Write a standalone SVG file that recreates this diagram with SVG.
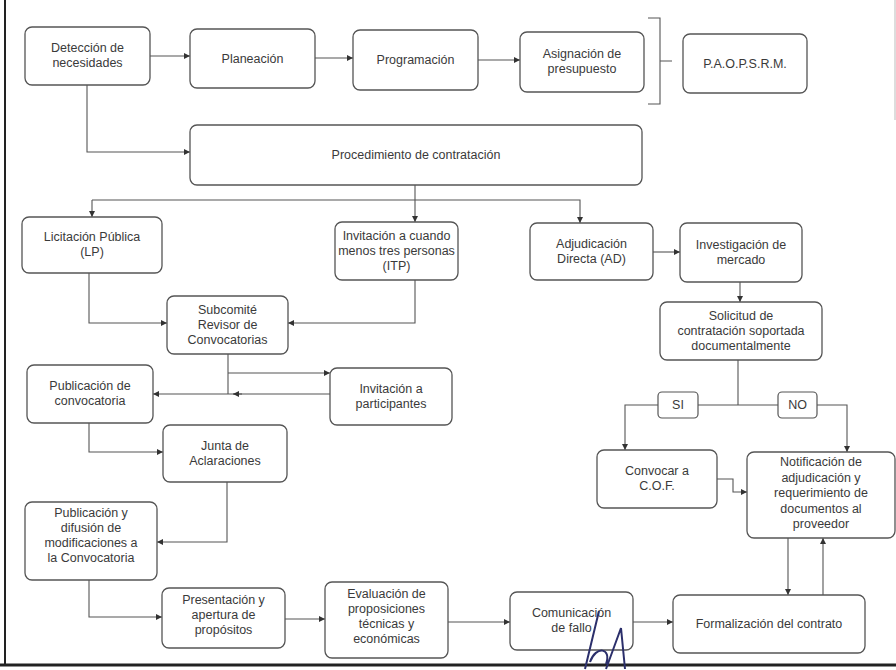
<svg xmlns="http://www.w3.org/2000/svg" width="896" height="670" viewBox="0 0 896 670">
<defs>
<marker id="ah" viewBox="0 0 6 6" refX="6" refY="3" markerWidth="6" markerHeight="6" markerUnits="userSpaceOnUse" orient="auto"><path d="M0,0 L6,3 L0,6 z" fill="#333"/></marker>
<style>
.box{fill:#fff;stroke:#555;stroke-width:1.3}
.lbl{fill:#fff;stroke:#555;stroke-width:1.2}
.t{font-family:"Liberation Sans",Arial,sans-serif;font-size:12.5px;fill:#3a3a3a;text-anchor:middle}
.c{fill:none;stroke:#555;stroke-width:1.1}
.a{marker-end:url(#ah)}
.frame{stroke:#222;fill:none}
</style>
</defs>
<rect x="0" y="0" width="896" height="670" fill="#fff"/>
<path class="frame" d="M5,0 V665" stroke-width="2"/>
<path class="frame" d="M0,665 H896" stroke-width="3"/>
<path d="M895,0 V120" stroke="#bbb" fill="none" stroke-width="1"/>

<g id="connectors">
<path class="c a" d="M150,56 H190"/>
<path class="c a" d="M315,58 H353"/>
<path class="c a" d="M478,60 H520"/>
<path class="c" d="M648,18 H660 V104 H648 M660,61 H672"/>
<path class="c a" d="M87,85 V152 H190"/>
<path class="c a" d="M415,185 V222"/>
<path class="c a" d="M92,200 V217"/>
<path class="c a" d="M92,200 H580 V223"/>
<path class="c a" d="M653,252 H680"/>
<path class="c a" d="M740,282 V302"/>
<path class="c" d="M738,360 V405"/>
<path class="c a" d="M738,405 H625 V450"/>
<path class="c a" d="M738,405 H847 V452"/>
<path class="c a" d="M717,479 H733 V492 H747"/>
<path class="c a" d="M788,538 V595"/>
<path class="c a" d="M823,595 V538"/>
<path class="c a" d="M633,622 H673"/>
<path class="c a" d="M448,622 H510"/>
<path class="c a" d="M285,619 H325"/>
<path class="c a" d="M89,273 V323 H167"/>
<path class="c a" d="M415,280 V323 H288"/>
<path class="c" d="M228,354 V394"/>
<path class="c a" d="M228,373 H330"/>
<path class="c a" d="M330,394 H153"/>
<path class="c a" d="M242,394 H233"/>
<path class="c a" d="M89,423 V452 H163"/>
<path class="c a" d="M227,482 V542 H157"/>
<path class="c a" d="M89,580 V617 H162"/>
</g>

<g id="n1"><rect class="box" x="25" y="27" width="125" height="58" rx="7"/><text class="t" x="87.5" y="52">Detección de</text><text class="t" x="87.5" y="67">necesidades</text></g>
<g id="n2"><rect class="box" x="190" y="29" width="125" height="59" rx="7"/><text class="t" x="252.5" y="62.5">Planeación</text></g>
<g id="n3"><rect class="box" x="353" y="30" width="125" height="60" rx="7"/><text class="t" x="415.5" y="64">Programación</text></g>
<g id="n4"><rect class="box" x="520" y="32" width="124" height="60" rx="7"/><text class="t" x="582" y="58">Asignación de</text><text class="t" x="582" y="73">presupuesto</text></g>
<g id="n5"><rect class="box" x="683" y="34" width="124" height="59" rx="7"/><text class="t" x="745" y="67.5">P.A.O.P.S.R.M.</text></g>
<g id="n6"><rect class="box" x="190" y="125" width="452" height="60" rx="7"/><text class="t" x="416" y="159">Procedimiento de contratación</text></g>
<g id="n7"><rect class="box" x="22" y="217" width="140" height="56" rx="7"/><text class="t" x="92" y="241">Licitación Pública</text><text class="t" x="92" y="256">(LP)</text></g>
<g id="n8"><rect class="box" x="335" y="222" width="123" height="58" rx="7"/><text class="t" x="396.5" y="239.5">Invitación a cuando</text><text class="t" x="396.5" y="254.5">menos tres personas</text><text class="t" x="396.5" y="269.5">(ITP)</text></g>
<g id="n9"><rect class="box" x="530" y="223" width="123" height="57" rx="7"/><text class="t" x="591.5" y="247.5">Adjudicación</text><text class="t" x="591.5" y="262.5">Directa (AD)</text></g>
<g id="n10"><rect class="box" x="680" y="223" width="122" height="59" rx="7"/><text class="t" x="741" y="248.5">Investigación de</text><text class="t" x="741" y="263.5">mercado</text></g>
<g id="n11"><rect class="box" x="660" y="302" width="162" height="58" rx="7"/><text class="t" x="741" y="319.5">Solicitud de</text><text class="t" x="741" y="334.5">contratación soportada</text><text class="t" x="741" y="349.5">documentalmente</text></g>
<g id="n12"><rect class="box" x="167" y="296" width="121" height="58" rx="7"/><text class="t" x="227.5" y="313.5">Subcomité</text><text class="t" x="227.5" y="328.5">Revisor de</text><text class="t" x="227.5" y="343.5">Convocatorias</text></g>
<g id="n13"><rect class="box" x="330" y="368" width="122" height="57" rx="7"/><text class="t" x="391" y="392.5">Invitación a</text><text class="t" x="391" y="407.5">participantes</text></g>
<g id="n14"><rect class="box" x="27" y="365" width="126" height="58" rx="7"/><text class="t" x="90" y="390">Publicación de</text><text class="t" x="90" y="405">convocatoria</text></g>
<g id="n15"><rect class="box" x="163" y="425" width="124" height="57" rx="7"/><text class="t" x="225" y="449.5">Junta de</text><text class="t" x="225" y="464.5">Aclaraciones</text></g>
<g id="n16"><rect class="box" x="25" y="502" width="132" height="78" rx="7"/><text class="t" x="91" y="517">Publicación y</text><text class="t" x="91" y="532">difusión de</text><text class="t" x="91" y="547">modificaciones a</text><text class="t" x="91" y="562">la Convocatoria</text></g>
<g id="n17"><rect class="box" x="162" y="588" width="123" height="60" rx="7"/><text class="t" x="223.5" y="604">Presentación y</text><text class="t" x="223.5" y="619">apertura de</text><text class="t" x="223.5" y="634">propósitos</text></g>
<g id="n18"><rect class="box" x="325" y="582" width="123" height="76" rx="7"/><text class="t" x="386.5" y="598">Evaluación de</text><text class="t" x="386.5" y="613">proposiciones</text><text class="t" x="386.5" y="628">técnicas y</text><text class="t" x="386.5" y="643">económicas</text></g>
<g id="n19"><rect class="box" x="510" y="592" width="123" height="58" rx="7"/><text class="t" x="571.5" y="617">Comunicación</text><text class="t" x="571.5" y="632">de fallo</text></g>
<g id="n20"><rect class="box" x="673" y="595" width="192" height="58" rx="7"/><text class="t" x="769" y="628">Formalización del contrato</text></g>
<g id="n21"><rect class="box" x="597" y="450" width="120" height="58" rx="7"/><text class="t" x="657" y="475">Convocar a</text><text class="t" x="657" y="490">C.O.F.</text></g>
<g id="n22"><rect class="box" x="747" y="452" width="148" height="86" rx="7"/><text class="t" x="821" y="466">Notificación de</text><text class="t" x="821" y="481.5">adjudicación y</text><text class="t" x="821" y="497">requerimiento de</text><text class="t" x="821" y="512.5">documentos al</text><text class="t" x="821" y="528">proveedor</text></g>
<g id="si"><rect class="lbl" x="658" y="392" width="40" height="26" rx="4"/><text class="t" x="678" y="409">SI</text></g>
<g id="no"><rect class="lbl" x="778" y="392" width="39" height="26" rx="4"/><text class="t" x="797.5" y="409">NO</text></g>

<path d="M585,669 L599,611 M590,662 C596,645 612,648 606,664 M606,669 L621,628 L625,669" fill="none" stroke="#2b2f6b" stroke-width="2"/>
</svg>
